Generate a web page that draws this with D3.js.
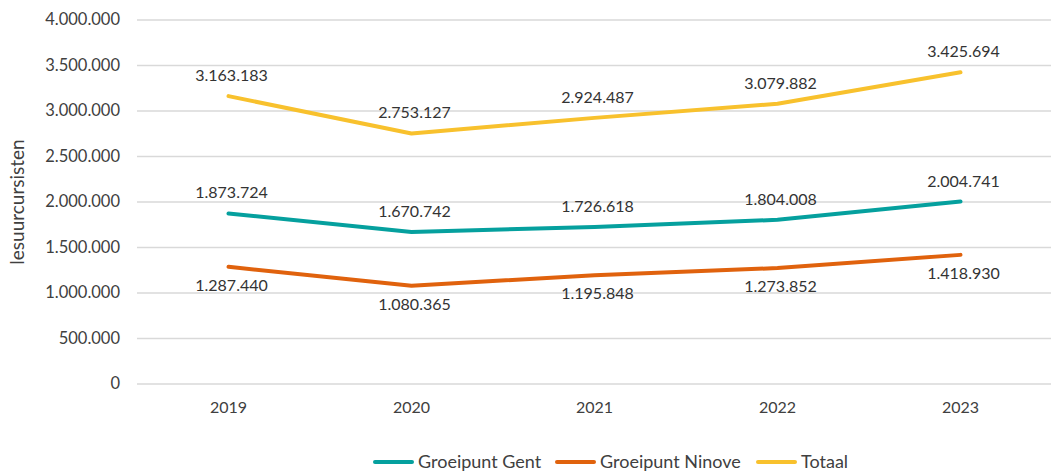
<!DOCTYPE html>
<html>
<head>
<meta charset="utf-8">
<script src="https://cdn.jsdelivr.net/npm/d3@7"></script>
<style>
  body { margin: 0; background: #fff; }
  svg { display: block; font-family: Lato, "Open Sans", sans-serif; }
</style>
</head>
<body>
<svg id="chart"></svg>
<script>
const years = ["2019", "2020", "2021", "2022", "2023"];
const gent = [1873724, 1670742, 1726618, 1804008, 2004741];
const ninove = [1287440, 1080365, 1195848, 1273852, 1418930];
const totaal = [3163183, 2753127, 2924487, 3079882, 3425694];
const yTicks = [0, 500000, 1000000, 1500000, 2000000, 2500000, 3000000, 3500000, 4000000];

const series = [
  { name: "Groeipunt Gent", values: gent, color: "#05a09e", above: true },
  { name: "Groeipunt Ninove", values: ninove, color: "#e0620d", above: false },
  { name: "Totaal", values: totaal, color: "#f8c12d", above: true }
];

const w = 1051, h = 474;
const svg = d3.select("#chart").attr("width", w).attr("height", h);

const fmt = d => d3.format(",")(d).replace(/,/g, ".");

const x = d3.scaleBand().domain(years).range([137, 1052]);
const y = d3.scaleLinear().domain([0, 4000000]).range([384, 20]);

// gridlines
svg.append("g")
  .selectAll("line")
  .data(yTicks)
  .enter()
  .append("line")
  .attr("x1", 137)
  .attr("x2", w)
  .attr("y1", d => y(d))
  .attr("y2", d => y(d))
  .style("stroke", "#d9d9d9")
  .style("stroke-width", 1.5);

// y tick labels
svg.append("g")
  .selectAll("text")
  .data(yTicks)
  .enter()
  .append("text")
  .attr("x", 120)
  .attr("y", d => y(d) + 5)
  .attr("text-anchor", "end")
  .style("font-size", "16.5px")
  .style("fill", "#404040")
  .text(d => fmt(d));

// x tick labels
svg.append("g")
  .selectAll("text")
  .data(years)
  .enter()
  .append("text")
  .attr("x", d => x(d) + x.bandwidth() / 2)
  .attr("y", 413)
  .attr("text-anchor", "middle")
  .style("font-size", "16px")
  .style("fill", "#404040")
  .text(d => d);

// y axis title
svg.append("text")
  .attr("transform", "translate(24,202) rotate(-90)")
  .attr("text-anchor", "middle")
  .style("font-size", "19px")
  .style("fill", "#404040")
  .text("lesuurcursisten");

const line = d3.line()
  .x((d, i) => x(years[i]) + x.bandwidth() / 2)
  .y(d => y(d));

series.forEach(s => {
  svg.append("path")
    .datum(s.values)
    .attr("d", line)
    .style("fill", "none")
    .style("stroke", s.color)
    .style("stroke-width", 4)
    .style("stroke-linecap", "round")
    .style("stroke-linejoin", "round");
});

series.forEach(s => {
  svg.append("g")
    .selectAll("text")
    .data(s.values)
    .enter()
    .append("text")
    .attr("x", (d, i) => x(years[i]) + x.bandwidth() / 2 + 3)
    .attr("y", d => s.above ? y(d) - 15 : y(d) + 24)
    .attr("text-anchor", "middle")
    .style("font-size", "16px")
    .style("fill", "#333")
    .text(d => fmt(d));
});

// legend
const legendX = [375, 557, 758];
const legend = svg.append("g")
  .selectAll("g")
  .data(series)
  .enter()
  .append("g")
  .attr("transform", (d, i) => "translate(" + legendX[i] + ",462)");

legend.append("line")
  .attr("x1", 0)
  .attr("x2", 37)
  .style("stroke", d => d.color)
  .style("stroke-width", 4)
  .style("stroke-linecap", "round");

legend.append("text")
  .attr("x", 43)
  .attr("y", 6)
  .style("font-size", "18px")
  .style("fill", "#404040")
  .text(d => d.name);
</script>
</body>
</html>
